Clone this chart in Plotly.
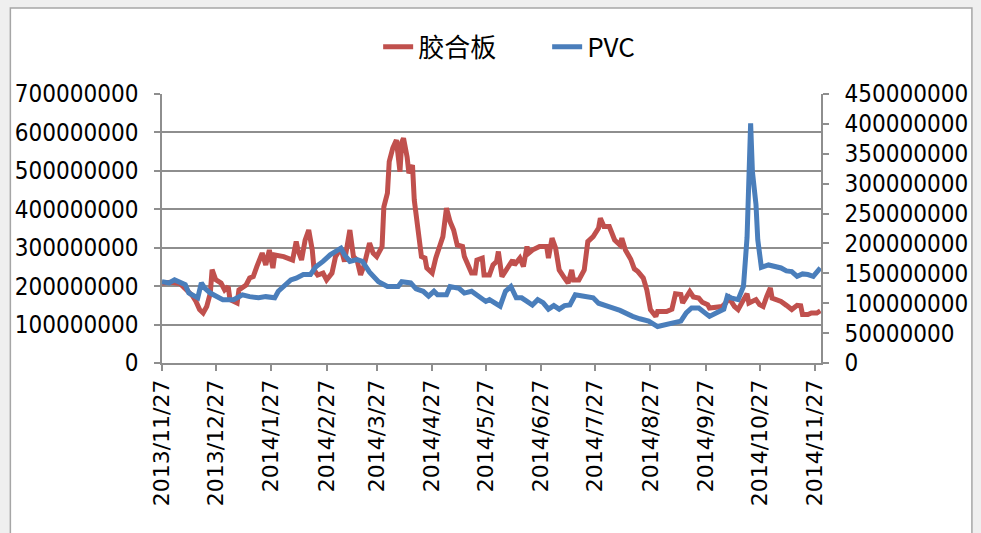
import pandas as pd
import plotly.graph_objects as go

# ---------------- data ----------------
start_date = "2013-11-27"

# 胶合板 (left axis), values in millions, sampled at day offsets from start_date
plywood_days = [0, 5, 10, 14, 17, 19, 21, 23, 25, 27, 28, 30, 33, 35, 37, 38, 41, 42, 43, 47,
                49, 51, 53, 56, 58, 60, 62, 63, 68, 73, 75, 76, 78, 80, 82, 84, 85, 87, 90, 92,
                95, 97, 100, 102, 105, 107, 109, 111, 113, 116, 118, 120, 123, 124, 126, 127, 129, 131, 133, 134,
                135, 137, 138, 140, 141, 143, 145, 147, 148, 151, 153, 157, 159, 161, 163, 165, 168, 169, 171, 173,
                175, 176, 179, 180, 183, 185, 187, 188, 190, 193, 196, 197, 200, 202, 204, 205, 207, 211, 215, 216,
                218, 220, 222, 225, 227, 229, 230, 233, 236, 238, 241, 244, 245, 247, 250, 253, 256, 257, 259, 262,
                264, 266, 269, 271, 273, 276, 277, 282, 285, 287, 290, 291, 295, 297, 300, 302, 305, 306, 310, 313,
                315, 317, 320, 322, 324, 327, 328, 330, 332, 334, 336, 338, 340, 341, 344, 346, 349, 352, 355, 357,
                358, 361, 363, 366, 368]
plywood_m = [208, 210, 207, 190, 175, 160, 139, 130, 147, 182, 243, 217, 208, 190, 199, 165, 160, 156, 190, 203,
             221, 225, 251, 286, 255, 294, 247, 281, 277, 268, 316, 294, 268, 320, 346, 294, 242, 229, 234, 216,
             234, 277, 299, 264, 346, 277, 268, 229, 255, 312, 286, 277, 303, 406, 442, 524, 559, 580, 498, 575,
             585, 536, 494, 515, 424, 346, 277, 273, 247, 234, 273, 329, 403, 368, 346, 307, 303, 277, 255, 234,
             234, 268, 273, 229, 229, 255, 264, 290, 225, 247, 268, 255, 273, 251, 303, 286, 294, 303, 303, 273,
             325, 299, 242, 221, 208, 242, 216, 216, 242, 316, 329, 351, 377, 355, 355, 320, 307, 325, 294, 270,
             245, 238, 221, 190, 139, 121, 134, 134, 140, 180, 178, 156, 186, 172, 169, 158, 152, 143, 147, 147,
             156, 169, 147, 139, 156, 180, 156, 160, 165, 152, 147, 173, 195, 169, 165, 160, 150, 139, 150, 149,
             126, 126, 130, 130, 136]

# PVC (right axis), values in millions
pvc_days = [0, 4, 7, 10, 13, 15, 19, 20, 22, 24, 27, 31, 34, 40, 45, 49, 54, 58, 63, 65,
            72, 75, 79, 83, 86, 90, 94, 100, 102, 105, 109, 112, 116, 121, 126, 132, 134, 139, 142, 146,
            149, 152, 154, 159, 161, 166, 169, 173, 177, 181, 183, 186, 189, 192, 195, 198, 201, 204, 207, 210,
            213, 216, 219, 222, 225, 228, 231, 235, 237, 241, 244, 248, 251, 256, 260, 263, 267, 272, 277, 281,
            287, 290, 293, 296, 300, 303, 306, 310, 314, 316, 318, 322, 325, 327, 329, 330, 332, 333, 335, 339,
            343, 346, 349, 352, 355, 358, 361, 364, 368]
pvc_m = [136, 134, 139, 134, 131, 117, 112, 109, 134, 125, 117, 112, 106, 106, 114, 111, 109, 111, 109, 120,
         139, 142, 148, 148, 161, 170, 181, 192, 181, 170, 173, 170, 152, 136, 128, 128, 136, 134, 124, 120,
         112, 120, 114, 114, 128, 125, 117, 120, 111, 103, 106, 101, 95, 120, 128, 109, 109, 103, 97, 106,
         101, 90, 96, 90, 96, 97, 114, 112, 111, 109, 100, 95, 93, 88, 81, 78, 74, 70, 61, 64,
         67, 70, 84, 92, 92, 86, 78, 84, 90, 112, 109, 106, 128, 210, 401, 320, 265, 206, 160, 164,
         161, 159, 154, 153, 145, 149, 148, 145, 159]

tick_dates = ["2013-11-27", "2013-12-27", "2014-01-27", "2014-02-27", "2014-03-27", "2014-04-27",
              "2014-05-27", "2014-06-27", "2014-07-27", "2014-08-27", "2014-09-27", "2014-10-27",
              "2014-11-27"]
tick_labels = ["2013/11/27", "2013/12/27", "2014/1/27", "2014/2/27", "2014/3/27", "2014/4/27",
               "2014/5/27", "2014/6/27", "2014/7/27", "2014/8/27", "2014/9/27", "2014/10/27",
               "2014/11/27"]

series_names = ["胶合板", "PVC"]

# ---------------- figure ----------------
assert len(plywood_days) == len(plywood_m)
assert len(pvc_days) == len(pvc_m)

base = pd.Timestamp(start_date)
ply_x = [base + pd.Timedelta(days=d) for d in plywood_days]
pvc_x = [base + pd.Timedelta(days=d) for d in pvc_days]

RED = "#C0504D"
BLUE = "#4A7EBB"
GRID = "#8E8E8E"

fig = go.Figure()
fig.add_trace(go.Scatter(x=ply_x, y=[v * 1e6 for v in plywood_m], name=series_names[0],
                         mode="lines", line=dict(color=RED, width=5), yaxis="y"))
fig.add_trace(go.Scatter(x=pvc_x, y=[v * 1e6 for v in pvc_m], name=series_names[1],
                         mode="lines", line=dict(color=BLUE, width=5), yaxis="y2"))

tick_font = dict(family="DejaVu Sans Condensed, DejaVu Sans", size=24, color="#000000")

fig.update_layout(
    width=981, height=533,
    margin=dict(l=162, r=160, t=94, b=170, autoexpand=False),
    paper_bgcolor="#EFEFEF",
    plot_bgcolor="rgba(0,0,0,0)",
    showlegend=True,
    legend=dict(orientation="h", x=0.328, xanchor="left", y=1.175, yanchor="middle",
                font=dict(family="Noto Sans CJK SC", size=26, color="#000000"),
                entrywidth=124, entrywidthmode="pixels",
                bgcolor="rgba(0,0,0,0)", tracegroupgap=0),
    xaxis=dict(type="date", range=["2013-11-27", "2014-11-30 08:00"],
               tickvals=tick_dates, ticktext=tick_labels, tickangle=-90,
               tickfont=dict(family="DejaVu Sans", size=22, color="#000000"),
               ticklabelstandoff=0,
               showgrid=False, zeroline=False, showline=True, linecolor=GRID, linewidth=1.5,
               ticks="outside", ticklen=6, tickcolor=GRID, tickwidth=1.5),
    yaxis=dict(range=[0, 700e6], dtick=100e6, tick0=0, tickformat="d",
               tickfont=tick_font, showgrid=True, gridcolor=GRID, gridwidth=1.5,
               ticklabelstandoff=11,
               zeroline=False, showline=True, linecolor=GRID, linewidth=1.5,
               ticks="outside", ticklen=6, tickcolor=GRID, tickwidth=1.5),
    yaxis2=dict(range=[0, 450e6], dtick=50e6, tick0=0, tickformat="d", overlaying="y", side="right",
                tickfont=tick_font, showgrid=False, zeroline=False, showline=True,
                ticklabelstandoff=11,
                linecolor=GRID, linewidth=1.5, ticks="outside", ticklen=6, tickcolor=GRID, tickwidth=1.5),
    shapes=[dict(type="rect", xref="paper", yref="paper", x0=-0.2301, x1=1.229, y0=-0.70, y1=1.3193,
                 line=dict(color="#A6A6A6", width=1.5), fillcolor="#FFFFFF", layer="below")],
)

fig.write_html("out.html", config={"displayModeBar": False},
               post_script="document.body.style.margin='0';document.body.style.background='#EFEFEF';")
